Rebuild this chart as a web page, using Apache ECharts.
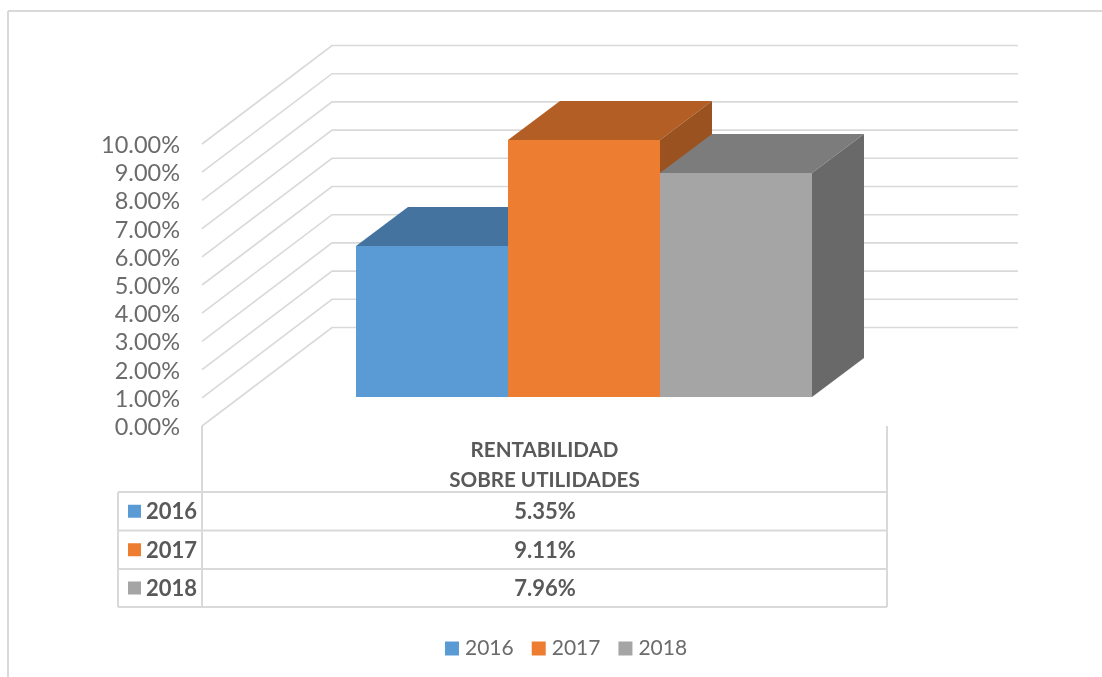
<!DOCTYPE html>
<html><head><meta charset="utf-8">
<style>html,body{margin:0;padding:0;background:#fff}#c{width:1102px;height:677px}</style>
<script src="https://cdn.jsdelivr.net/npm/echarts@6/dist/echarts.min.js"></script>
</head><body><div id="c"></div>
<script>
const categories = ['RENTABILIDAD\nSOBRE UTILIDADES'];
const years = ['2016', '2017', '2018'];
const values2016 = [5.35];
const values2017 = [9.11];
const values2018 = [7.96];
const yTicks = [0, 1, 2, 3, 4, 5, 6, 7, 8, 9, 10];

const allValues = [values2016, values2017, values2018];
const frontColors = ['#5B9BD5', '#ED7D31', '#A5A5A5'];
const topColors = ['#44739F', '#B25E25', '#7C7C7C'];
const sideColors = ['#3C6690', '#9A5220', '#696969'];
const FONT = 'Lato';
const LINE = '#D9D9D9';
const TEXT = '#6B6B6B';
const BOLD = '#595959';
const fmt = v => v.toFixed(2) + '%';

const WALL_DX = 130, WALL_DY = -98.5;
const FRONT_DX = 39.5, FRONT_DY = -29;
const BAR_DX = 52, BAR_DY = -39;
const BAR_SHARE = 0.2222;

function poly(points, color) {
  return { type: 'polygon', shape: { points }, style: { fill: color } };
}
function barSeries(i) {
  return {
    name: years[i], type: 'custom', coordinateSystem: 'cartesian2d', z: 3 + i,
    itemStyle: { color: frontColors[i] },
    data: allValues[i].map((v, k) => [k, v]),
    renderItem(params, api) {
      const c0 = api.coord([api.value(0), 0]);
      const c1 = api.coord([api.value(0), api.value(1)]);
      const w = api.size([1, 0])[0] * BAR_SHARE;
      const x0 = Math.round(c0[0] + FRONT_DX + (i - 1.5) * w), x1 = Math.round(c0[0] + FRONT_DX + (i - 0.5) * w);
      const yb = Math.round(c0[1] + FRONT_DY), yt = Math.round(c1[1] + FRONT_DY);
      return { type: 'group', children: [
        poly([[x0, yt], [x0 + BAR_DX, yt + BAR_DY], [x1 + BAR_DX, yt + BAR_DY], [x1, yt]], topColors[i]),
        poly([[x1, yt], [x1 + BAR_DX, yt + BAR_DY], [x1 + BAR_DX, yb + BAR_DY], [x1, yb]], sideColors[i]),
        poly([[x0, yt], [x1, yt], [x1, yb], [x0, yb]], frontColors[i])
      ] };
    }
  };
}
const wallSeries = {
  name: 'walls', type: 'custom', coordinateSystem: 'cartesian2d', z: 1, silent: true,
  data: yTicks.map(t => [0, t]),
  renderItem(params, api) {
    const y = api.coord([0, api.value(1)])[1];
    const g = params.coordSys;
    return { type: 'polyline', shape: { points: [
      [g.x, y], [g.x + WALL_DX, y + WALL_DY], [g.x + WALL_DX + g.width + 1, y + WALL_DY]
    ] }, style: { stroke: LINE, lineWidth: 1.6, fill: null } };
  }
};

// data table and frame
const T = { left: 118, mid: 202, right: 887, top: 426, rows: [492, 530.5, 569, 607] };
const tableGraphics = [];
const seg = (x1, y1, x2, y2) => tableGraphics.push({ type: 'line', shape: { x1, y1, x2, y2 }, style: { stroke: LINE, lineWidth: 2 }, z: 1 });
seg(8, 11, 1102, 11);
seg(8, 11, 8, 677);
seg(T.mid, T.top, T.mid, T.rows[3]);
seg(T.right, T.top, T.right, T.rows[3]);
seg(T.left, T.rows[0], T.left, T.rows[3]);
T.rows.forEach(y => seg(T.left, y, T.right, y));
years.forEach((yr, i) => {
  const cy = (T.rows[i] + T.rows[i + 1]) / 2;
  tableGraphics.push({ type: 'rect', shape: { x: 128, y: cy - 6.5, width: 13, height: 13 }, style: { fill: frontColors[i] }, z: 2 });
  tableGraphics.push({ type: 'text', x: 197, y: cy + 1, style: { text: yr, fill: BOLD, font: 'bold 22px ' + FONT, align: 'right', verticalAlign: 'middle' }, z: 2 });
  tableGraphics.push({ type: 'text', x: 545, y: cy + 1, style: { text: fmt(allValues[i][0]), fill: BOLD, font: 'bold 22px ' + FONT, align: 'center', verticalAlign: 'middle' }, z: 2 });
});

const chart = echarts.init(document.getElementById('c'), null, { renderer: 'canvas', width: 1102, height: 677 });
chart.setOption({
  animation: false,
  backgroundColor: '#fff',
  grid: { left: 202, top: 144, width: 685, height: 282, containLabel: false },
  legend: {
    data: years, left: 445, top: 638, padding: 0, icon: 'rect', itemWidth: 14, itemHeight: 14, itemGap: 18,
    textStyle: { color: TEXT, fontFamily: FONT, fontSize: 21, padding: [0, 0, 0, 1] }
  },
  xAxis: {
    type: 'category', data: categories,
    axisLine: { show: false }, axisTick: { show: false },
    axisLabel: { margin: 9, color: BOLD, fontFamily: FONT, fontWeight: 'bold', fontSize: 20.6, lineHeight: 30 }
  },
  yAxis: {
    type: 'value', min: 0, max: 10, interval: 1,
    axisLine: { show: false }, axisTick: { show: false }, splitLine: { show: false },
    axisLabel: { margin: 22, color: TEXT, fontFamily: FONT, fontSize: 23.5, verticalAlign: 'top', lineHeight: 3, formatter: fmt }
  },
  series: [wallSeries, barSeries(0), barSeries(1), barSeries(2)],
  graphic: tableGraphics
});
</script></body></html>
